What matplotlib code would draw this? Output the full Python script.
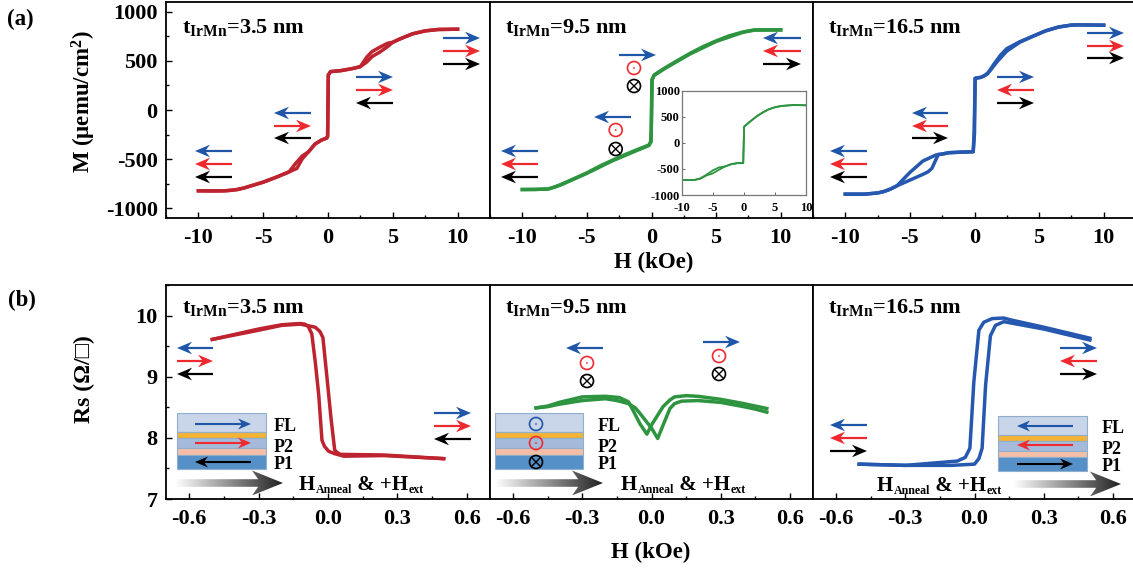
import matplotlib
matplotlib.use("Agg")
import matplotlib.pyplot as plt
import numpy as np
from matplotlib.patches import Circle, Polygon, Rectangle
from matplotlib.ticker import MultipleLocator

plt.rcParams["font.family"] = ["Liberation Serif", "DejaVu Sans"]
plt.rcParams["font.weight"] = "bold"
plt.rcParams["mathtext.fontset"] = "custom"
plt.rcParams["mathtext.rm"] = "Liberation Serif:bold"
plt.rcParams["mathtext.bf"] = "Liberation Serif:bold"
plt.rcParams["mathtext.it"] = "Liberation Serif:bold"
plt.rcParams["axes.unicode_minus"] = False

W, H = 1133, 571

# M-H loops, two branches each
h_a1_up = [-10, -9, -8, -7.5, -7, -6.5, -6, -5, -4, -3, -2.4, -2, -1.5, -1, -0.5, -0.1, -0.03, 0.03, 0.2, 1, 2, 2.5, 3, 3.4, 4, 4.6, 5, 5.5, 6.5, 7.5, 8.5, 10]
m_a1_up = [-823, -825, -823, -818, -810, -795, -775, -735, -685, -630, -595, -500, -425, -347, -306, -286, -270, 357, 391, 401, 425, 442, 490, 544, 590, 646, 690, 721, 775, 806, 820, 823]
h_a1_dn = [10, 8.5, 7.5, 6.5, 5.5, 5, 4.6, 4, 3.4, 3, 2.5, 2, 1, 0.2, 0.02, -0.03, -0.1, -0.5, -1, -1.5, -2, -2.5, -3, -4, -5, -6, -6.5, -7, -7.5, -8, -10]
m_a1_dn = [823, 820, 806, 775, 721, 690, 680, 640, 595, 540, 442, 425, 401, 391, 357, -270, -286, -306, -347, -425, -470, -544, -630, -685, -735, -775, -795, -810, -818, -823, -823]

h_a2_up = [-10, -9, -8, -7.5, -7, -6, -5, -4, -3, -2, -1, -0.2, -0.07, -0.02, 0, 0.05, 0.2, 1, 2, 3, 4, 5, 6, 7, 7.5, 8, 9, 10]
m_a2_up = [-810, -810, -803, -785, -758, -700, -640, -571, -510, -452, -398, -357, -323, -200, -68, 306, 357, 425, 503, 578, 646, 704, 755, 792, 805, 816, 816, 816]
h_a2_dn = [10, 8, 7.5, 7, 5, 3, 1, 0.2, 0.03, -0.03, -0.2, -1, -3, -5, -7, -7.5, -8, -10]
m_a2_dn = [816, 814, 803, 788, 698, 572, 420, 352, 306, -323, -362, -405, -516, -645, -762, -785, -806, -810]

h_a3_up = [-10, -8.5, -7.5, -7, -6.5, -6, -5, -4, -3.6, -3.3, -2.8, -2.5, -2, -1, -0.1, 0, 0.05, 0.5, 0.8, 1.2, 1.8, 2.5, 3.5, 4.5, 5.5, 6.5, 7.5, 8, 10]
m_a3_up = [-857, -857, -845, -830, -805, -772, -714, -656, -630, -595, -452, -449, -435, -429, -425, -238, 323, 333, 350, 400, 500, 600, 690, 750, 806, 845, 865, 867, 864]
h_a3_dn = [10, 8, 7.5, 6.5, 5.5, 4.5, 3.5, 2.5, 2, 1.5, 1, 0.5, 0.05, -0.03, -0.1, -1, -2, -2.5, -3, -4, -5, -6, -6.5, -7, -7.5, -8.5, -10]
m_a3_dn = [864, 867, 865, 845, 806, 750, 695, 625, 556, 467, 367, 333, 323, -238, -425, -429, -435, -449, -459, -520, -636, -772, -805, -830, -845, -857, -857]

# inset of panel a2
h_in_up = [-10, -8, -7, -6, -5, -4, -3, -2, -1, -0.1, -0.02, 0.05, 1, 2, 3, 4, 5, 6, 8, 10]
m_in_up = [-713, -713, -688, -624, -586, -516, -452, -408, -389, -389, 0, 312, 408, 503, 580, 643, 682, 707, 726, 720]
h_in_dn = [10, 8, 6, 5, 4, 3, 2, 1, 0.05, -0.02, -0.1, -1, -2, -3, -4, -5, -6, -7, -8, -10]
m_in_dn = [720, 726, 707, 682, 643, 580, 503, 408, 312, 0, -389, -389, -408, -452, -471, -529, -610, -680, -713, -713]

# Rs-H loops
h_b1_a = [-0.5, -0.3, -0.2, -0.12, -0.1, -0.085, -0.07, -0.055, -0.04, -0.026, -0.015, 0.003, 0.03, 0.068, 0.24, 0.5]
r_b1_a = [9.61, 9.78, 9.85, 9.87, 9.86, 9.82, 9.70, 9.24, 8.70, 7.96, 7.86, 7.78, 7.74, 7.70, 7.71, 7.66]
h_b1_b = [0.5, 0.24, 0.053, 0.04, 0.029, 0.013, -0.004, -0.022, -0.035, -0.055, -0.12, -0.2, -0.3, -0.5]
r_b1_b = [7.66, 7.72, 7.73, 7.76, 7.80, 8.32, 8.97, 9.64, 9.74, 9.81, 9.86, 9.84, 9.76, 9.61]

h_b2_a = [-0.5, -0.45, -0.4, -0.3, -0.2, -0.15, -0.1, -0.07, -0.05, 0, 0.027, 0.045, 0.08, 0.1, 0.13, 0.2, 0.3, 0.4, 0.45, 0.5]
r_b2_a = [8.49, 8.51, 8.55, 8.61, 8.64, 8.61, 8.56, 8.49, 8.40, 8.16, 7.99, 8.16, 8.48, 8.56, 8.60, 8.61, 8.58, 8.51, 8.47, 8.42]
h_b2_b = [0.5, 0.4, 0.3, 0.2, 0.15, 0.1, 0.08, 0.05, 0, -0.02, -0.05, -0.08, -0.1, -0.14, -0.2, -0.3, -0.4, -0.45, -0.5]
r_b2_b = [8.48, 8.56, 8.63, 8.68, 8.69, 8.67, 8.62, 8.51, 8.21, 8.06, 8.23, 8.45, 8.59, 8.66, 8.68, 8.67, 8.58, 8.52, 8.49]

h_b3_a = [-0.5, -0.3, -0.075, -0.04, -0.02, -0.003, 0.019, 0.04, 0.076, 0.127, 0.156, 0.3, 0.5]
r_b3_a = [7.57, 7.55, 7.62, 7.68, 7.83, 8.91, 9.76, 9.89, 9.95, 9.96, 9.93, 9.81, 9.63]
h_b3_b = [0.5, 0.3, 0.127, 0.091, 0.069, 0.048, 0.033, 0.019, 0, -0.1, -0.3, -0.5]
r_b3_b = [9.60, 9.78, 9.90, 9.84, 9.67, 8.86, 7.83, 7.66, 7.57, 7.55, 7.55, 7.57]

titles = ["t$_{\\mathbf{IrMn}}$=3.5 nm", "t$_{\\mathbf{IrMn}}$=9.5 nm", "t$_{\\mathbf{IrMn}}$=16.5 nm"]
h_ticks_top = [-10, -5, 0, 5, 10]
m_ticks = [-1000, -500, 0, 500, 1000]
h_ticks_bot = [-0.6, -0.3, 0.0, 0.3, 0.6]
rs_ticks = [7, 8, 9, 10]

RED, GREEN, BLUE = "#BE2330", "#2E9440", "#2558AE"
A_BLUE, A_RED, A_BLACK = "#1F56A8", "#EE2A2E", "#000000"

fig = plt.figure(figsize=(W / 100, H / 100), dpi=100)


def px_axes(x0, y0, x1, y1, **kw):
    # axes from pixel box (y going down)
    return fig.add_axes([x0 / W, 1 - y1 / H, (x1 - x0) / W, (y1 - y0) / H], **kw)


def style(ax, minor_x, minor_y, left=False):
    for s in ax.spines.values():
        s.set_linewidth(1.3)
    ax.xaxis.set_minor_locator(MultipleLocator(minor_x))
    ax.yaxis.set_minor_locator(MultipleLocator(minor_y))
    ax.tick_params(which="major", direction="in", length=4, width=1, labelsize=16, pad=6)
    ax.tick_params(axis="x", which="major", pad=7)
    ax.tick_params(which="minor", direction="in", length=2.2, width=1)
    ax.tick_params(axis="y", which="both", left=left, labelleft=left)


panel_x = [(166, 490), (490, 813), (813, 1136)]

top_loops = [
    (h_a1_up, m_a1_up, h_a1_dn, m_a1_dn, RED),
    (h_a2_up, m_a2_up, h_a2_dn, m_a2_dn, GREEN),
    (h_a3_up, m_a3_up, h_a3_dn, m_a3_dn, BLUE),
]
bot_loops = [
    (h_b1_a, r_b1_a, h_b1_b, r_b1_b, RED),
    (h_b2_a, r_b2_a, h_b2_b, r_b2_b, GREEN),
    (h_b3_a, r_b3_a, h_b3_b, r_b3_b, BLUE),
]

for i, (x0, x1) in enumerate(panel_x):
    ax = px_axes(x0, 2, x1, 218)
    xa, ya, xb, yb, c = top_loops[i]
    ax.plot(xa, ya, color=c, lw=2.5, solid_joinstyle="round")
    ax.plot(xb, yb, color=c, lw=2.5, solid_joinstyle="round")
    ax.set_xlim(-12.5, 12.5)
    ax.set_ylim(-1100, 1100)
    ax.set_xticks(h_ticks_top)
    ax.set_yticks(m_ticks)
    style(ax, 2.5, 250, left=i == 0)

    ax = px_axes(x0, 285, x1, 499)
    xa, ya, xb, yb, c = bot_loops[i]
    ax.plot(xa, ya, color=c, lw=2.5, solid_joinstyle="round")
    ax.plot(xb, yb, color=c, lw=2.5, solid_joinstyle="round")
    ax.set_xlim(-0.7, 0.7)
    ax.set_ylim(7, 10.5)
    ax.set_xticks(h_ticks_bot)
    ax.set_xticklabels(["-0.6", "-0.3", "0.0", "0.3", "0.6"])
    ax.set_yticks(rs_ticks)
    style(ax, 0.15, 0.5, left=i == 0)

# overlay in pixel coords for the sketch stuff
ov = fig.add_axes([0, 0, 1, 1], zorder=5)
ov.set_xlim(0, W)
ov.set_ylim(H, 0)
ov.axis("off")


def arrow(x0, x1, y, color, lw=1.6, hl=15, hw=6.3, z=6):
    d = 1 if x1 > x0 else -1
    ov.plot([x0, x1 - d * hl * 0.6], [y, y], color=color, lw=lw, solid_capstyle="butt", zorder=z)
    ov.add_patch(Polygon([(x1, y), (x1 - d * hl, y - hw), (x1 - d * hl * 0.68, y), (x1 - d * hl, y + hw)],
                         closed=True, fc=color, ec="none", zorder=z))


def triple(x0, x1, ys, dirs, colors=(A_BLUE, A_RED, A_BLACK)):
    for y, d, c in zip(ys, dirs, colors):
        if d > 0:
            arrow(x0, x1, y, c)
        else:
            arrow(x1, x0, y, c)


def dot(x, y, color):
    ov.add_patch(Circle((x, y), 6.5, fc="none", ec=color, lw=1.2, zorder=6))
    ov.add_patch(Circle((x, y), 0.9, fc=color, ec="none", zorder=6))


def cross(x, y, color="black"):
    r = 6.5
    ov.add_patch(Circle((x, y), r, fc="none", ec=color, lw=1.2, zorder=6))
    k = r * 0.707
    ov.plot([x - k, x + k], [y - k, y + k], color=color, lw=1, zorder=6)
    ov.plot([x - k, x + k], [y + k, y - k], color=color, lw=1, zorder=6)


def stack(x0, x1, y0, labels_x):
    layers = [(0, 19, "#C9D5E8"), (19, 25, "#F5B335"), (25, 35, "#A6BBDC"), (35, 41.7, "#F4BFA6"), (41.7, 55.7, "#5590C8")]
    for a, b, c in layers:
        ov.add_patch(Rectangle((x0, y0 + a), x1 - x0, b - a, fc=c, ec="#8FAFCC", lw=0.8, zorder=5.5))
    for name, dy in (("FL", 13), ("P2", 34), ("P1", 51)):
        ov.text(labels_x, y0 + dy, name, fontsize=13, va="center", ha="left")


def big_arrow(x0, x1, y):
    hl = 31
    hw = 12.5
    sw = 3.8
    pts = [(x0, y - sw), (x1 - hl * 0.8, y - sw), (x1 - hl, y - hw), (x1, y), (x1 - hl, y + hw),
           (x1 - hl * 0.8, y + sw), (x0, y + sw)]
    poly = Polygon(pts, closed=True, fc="none", ec="none", transform=ov.transData)
    ov.add_patch(poly)
    grad = np.linspace(0, 1, 256).reshape(1, -1)
    im = ov.imshow(grad, extent=(x0, x1, y + hw, y - hw), cmap="gray_r", vmin=0, vmax=1.15,
                   aspect="auto", zorder=6)
    im.set_clip_path(poly)
    ov.set_xlim(0, W)
    ov.set_ylim(H, 0)


def anneal_label(x, y):
    # subscripts are much smaller than mathtext would make them
    rend = fig.canvas.get_renderer()
    parts = [("H", 15, 0), ("Anneal", 8.6, 3), (" & +H", 15, 0), ("ext", 8.6, 3)]
    for s, size, dy in parts:
        t = ov.text(x, y + dy, s, fontsize=size, va="baseline", ha="left")
        x += t.get_window_extent(rend).width + 0.4


# (a) arrows
triple(443, 480, (38, 51, 64), (1, 1, 1))
triple(356, 393, (77, 90, 103), (1, 1, -1))
triple(274, 311, (113, 126, 138), (-1, 1, -1))
triple(195, 232, (151, 164, 177), (-1, -1, -1))

triple(763, 801, (38, 51, 64), (-1, -1, 1))
arrow(619, 656, 55, A_BLUE)
dot(634, 68, A_RED)
cross(634, 86)
arrow(631, 594, 117, A_BLUE)
dot(615.7, 130, A_RED)
cross(615.7, 149)
triple(501, 538, (151, 164, 177), (-1, -1, -1))

triple(1087, 1124, (33, 46, 58), (1, 1, 1))
triple(997, 1034, (77, 90, 103), (1, -1, 1))
triple(912, 948, (113, 126, 138), (-1, -1, 1))
triple(830, 867, (151, 164, 177), (-1, -1, -1))

# (b) arrows
triple(177, 213, (348, 361, 374), (-1, 1, -1))
triple(434, 471, (413, 426, 439), (1, 1, -1))

arrow(603, 566, 348, A_BLUE)
dot(587, 363, A_RED)
cross(587, 381)
arrow(703, 740, 342, A_BLUE)
dot(719, 356, A_RED)
cross(719, 374)

triple(1060, 1097, (348, 361, 374), (1, -1, 1))
triple(830, 867, (425, 438, 451), (-1, -1, 1))

# layer stacks
stack(177, 266, 413.3, 274)
arrow(195, 251, 424, A_BLUE, lw=1.5, hl=13, hw=5.5)
arrow(195, 251, 443, A_RED, lw=1.5, hl=13, hw=5.5)
arrow(251, 195, 462, A_BLACK, lw=1.5, hl=13, hw=5.5)

stack(495, 583, 413.3, 598)
dot(536, 424, A_BLUE)
dot(536, 443, A_RED)
cross(536, 462)

stack(998, 1087, 415.7, 1102)
arrow(1073, 1017, 426, A_BLUE, lw=1.5, hl=13, hw=5.5)
arrow(1073, 1017, 445, A_RED, lw=1.5, hl=13, hw=5.5)
arrow(1017, 1073, 464, A_BLACK, lw=1.5, hl=13, hw=5.5)

big_arrow(175, 283, 483)
big_arrow(495, 603, 483)
big_arrow(1013, 1121, 484)

anneal_label(299, 490)
anneal_label(621, 490)
anneal_label(877, 491)

for x, t in zip((181.5, 505, 828), titles):
    ov.text(x, 27, t, fontsize=16, va="center", ha="left")
    ov.text(x, 308, t, fontsize=16, va="center", ha="left")

ov.text(7, 19, "(a)", fontsize=16.5, va="center", ha="left")
ov.text(8, 300, "(b)", fontsize=16.5, va="center", ha="left")
ov.text(654, 262, "H (kOe)", fontsize=16.5, va="center", ha="center")
ov.text(651, 552, "H (kOe)", fontsize=16.5, va="center", ha="center")
ov.text(84, 102, "M (\u03bcemu/cm$^{\\mathbf{2}}$)", fontsize=16.5, rotation=90, va="center", ha="center")
ov.text(84, 379, "Rs (\u03a9/\u25a1)", fontsize=17, rotation=90, va="center", ha="center")

# inset
ins = px_axes(681.7, 90.7, 806, 195, zorder=7)
ins.patch.set_alpha(0)
ins.plot(h_in_up, m_in_up, color=GREEN, lw=1.3)
ins.plot(h_in_dn, m_in_dn, color=GREEN, lw=1.3)
ins.set_xlim(-10, 10)
ins.set_ylim(-1000, 1000)
ins.set_xticks(h_ticks_top)
ins.set_yticks(m_ticks)
ins.tick_params(direction="in", length=2.5, width=0.7, labelsize=9, pad=1.5, color="#666666")
ins.tick_params(axis="x", pad=5)
for s in ins.spines.values():
    s.set_color("#777777")
    s.set_linewidth(0.9)

fig.savefig("out.png", dpi=100)
